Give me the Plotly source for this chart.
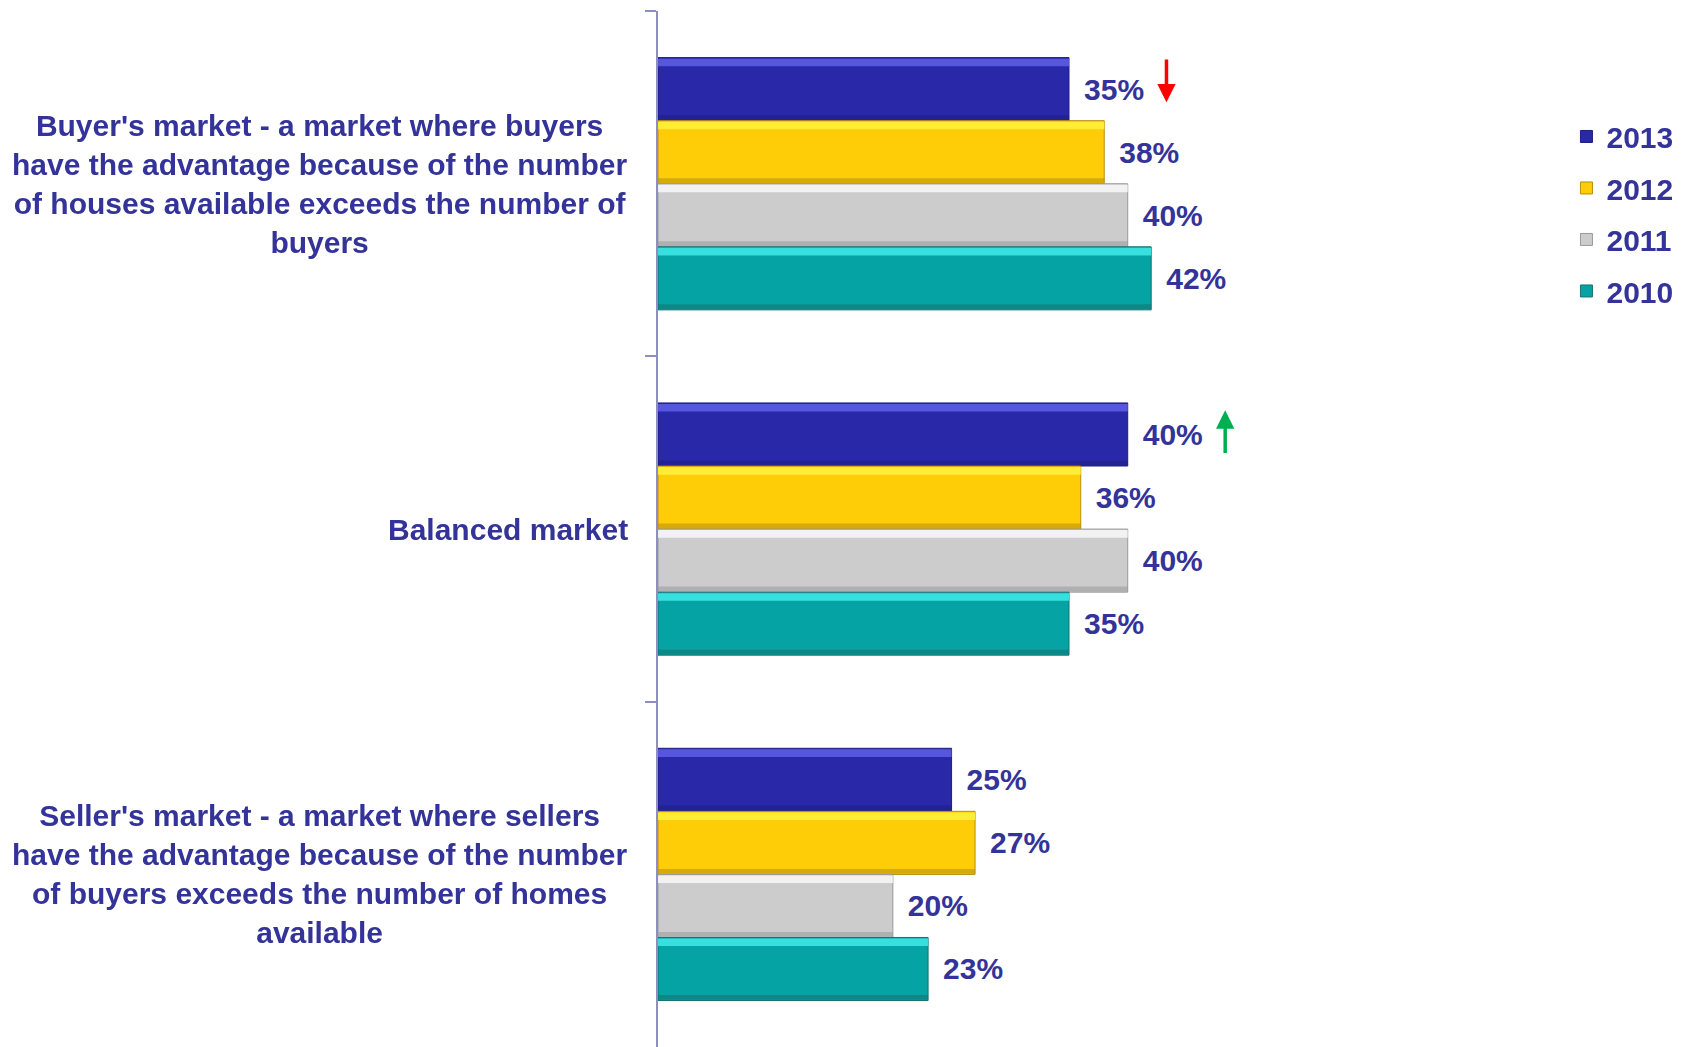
import plotly.graph_objects as go

# ---- data ----
categories = [
    "Buyer's market - a market where buyers<br>have the advantage because of the number<br>of houses available exceeds the number of<br>buyers",
    "Balanced market",
    "Seller's market - a market where sellers<br>have the advantage because of the number<br>of buyers exceeds the number of homes<br>available",
]
series_names = ["2013", "2012", "2011", "2010"]
values_2013 = [35, 40, 25]
values_2012 = [38, 36, 27]
values_2011 = [40, 40, 20]
values_2010 = [42, 35, 23]
series_values = [values_2013, values_2012, values_2011, values_2010]

# trend arrows: (category index, series index, direction)
arrows = [(0, 0, "down"), (1, 0, "up")]

# ---- style ----
main_colors = ["#2828A8", "#FFCC08", "#CCCCCC", "#05A3A3"]
top_colors = ["#5C5CE6", "#FFF040", "#F6F6F6", "#3FE6E6"]
bottom_colors = ["#1E1E82", "#B58E10", "#9A9A9A", "#177272"]
text_color = "#333399"
axis_color = "#8E8EBF"
FONT = "Liberation Sans, Arial, sans-serif"

PAGE_OFF = 8  # default body margin of the html page
W, H = 1681 - PAGE_OFF, 1047 - PAGE_OFF
ML = 658 - PAGE_OFF
MT = 11 - PAGE_OFF
MB = 0
plot_w = 822.5
MR = W - ML - plot_w
x_max = plot_w / 11.75  # px per percent

bar_w = 0.1826
offsets = [-0.365, -0.365 + bar_w, -0.365 + 2 * bar_w, -0.365 + 3 * bar_w]
hi_w = 0.022
sh_w = 0.014

fig = go.Figure()
for i, (name, vals) in enumerate(zip(series_names, series_values)):
    fig.add_trace(go.Bar(
        y=categories, x=vals, orientation="h", name=name,
        legendgroup=name,
        offset=offsets[i], width=bar_w,
        marker=dict(color=main_colors[i], line=dict(color=bottom_colors[i], width=1)),
        text=[f"\u2009\u2009{v}%" for v in vals],
        textposition="outside", cliponaxis=False,
        textfont=dict(family=FONT, size=30, color=text_color, weight="bold"),
        hoverinfo="x+name",
    ))
for i, vals in enumerate(series_values):
    fig.add_trace(go.Bar(
        y=categories, x=vals, orientation="h", showlegend=False,
        legendgroup=series_names[i],
        offset=offsets[i] + 0.003, width=hi_w,
        marker=dict(color=top_colors[i], line=dict(width=0)), opacity=0.9,
        hoverinfo="skip",
    ))
    fig.add_trace(go.Bar(
        y=categories, x=vals, orientation="h", showlegend=False,
        legendgroup=series_names[i],
        offset=offsets[i] + bar_w - sh_w - 0.002, width=sh_w,
        marker=dict(color=bottom_colors[i], line=dict(width=0)), opacity=0.55,
        hoverinfo="skip",
    ))

annotations = []
label_x = (630 - 658) / plot_w
for c in categories:
    annotations.append(dict(
        xref="paper", yref="y", x=label_x, y=c, xanchor="right", yanchor="middle",
        align="center", text=c, showarrow=False,
        font=dict(family=FONT, size=30, color=text_color, weight="bold"),
    ))

for ci, si, d in arrows:
    v = series_values[si][ci]
    center = ci + offsets[si] + bar_w / 2 - 0.02
    half = 0.064
    if d == "down":
        color = "#FF0000"
        center -= 0.006
        tip, tail = center + half, center - half
    else:
        color = "#00B050"
        center += 0.014
        tip, tail = center - half, center + half
    annotations.append(dict(
        xref="x", yref="y", axref="x", ayref="y",
        x=v + 8.3, y=tip, ax=v + 8.3, ay=tail,
        showarrow=True, arrowhead=2, arrowsize=1.05, arrowwidth=3.5,
        arrowcolor=color, text="", standoff=0,
    ))

fig.update_layout(
    width=W, height=H,
    margin=dict(l=ML, r=MR, t=MT, b=MB, pad=0),
    paper_bgcolor="white", plot_bgcolor="white",
    barmode="overlay",
    showlegend=True,
    legend=dict(
        x=(1567 - 658) / plot_w, y=0.904, xanchor="left", yanchor="top",
        font=dict(family=FONT, size=30, color=text_color, weight="bold"),
        tracegroupgap=9.5, traceorder="grouped",
        bgcolor="rgba(0,0,0,0)",
    ),
    xaxis=dict(range=[0, x_max], visible=False, fixedrange=True),
    yaxis=dict(
        type="category", range=[2.5, -0.5],
        showline=True, linecolor=axis_color, linewidth=2,
        ticks="outside", ticklen=11, tickcolor=axis_color, tickwidth=2,
        tickson="boundaries", showticklabels=False, showgrid=False, zeroline=False,
    ),
    annotations=annotations,
)

fig.write_html("out.html")
